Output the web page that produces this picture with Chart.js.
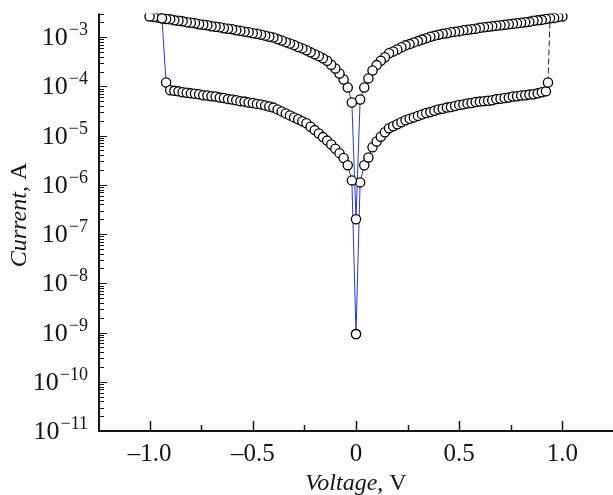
<!DOCTYPE html>
<html>
<head>
<meta charset="utf-8">
<script src="https://cdn.jsdelivr.net/npm/chart.js@4.4.1/dist/chart.umd.min.js"></script>
<style>
  html, body { margin: 0; padding: 0; background: #fff; }
  #wrap { width: 613px; height: 495px; position: relative; }
</style>
</head>
<body>
<div id="wrap"><canvas id="iv"></canvas></div>
<script>
// ===== I-V data =====
// |V| steps for every branch (V)
const voltage = [0.02, 0.04, 0.06, 0.08, 0.10, 0.12, 0.14, 0.16, 0.18, 0.20,
  0.22, 0.24, 0.26, 0.28, 0.30, 0.32, 0.34, 0.36, 0.38, 0.40,
  0.42, 0.44, 0.46, 0.48, 0.50, 0.52, 0.54, 0.56, 0.58, 0.60,
  0.62, 0.64, 0.66, 0.68, 0.70, 0.72, 0.74, 0.76, 0.78, 0.80,
  0.82, 0.84, 0.86, 0.88, 0.90, 0.92, 0.94, 0.96, 0.98, 1.00];

// high-current branch, V > 0 (A)
const upperRight = [5.4e-5, 9.5e-5, 1.45e-4, 2.1e-4, 2.7e-4, 3.3e-4, 3.9e-4, 4.7e-4, 5.1e-4, 5.6e-4,
  6.2e-4, 6.8e-4, 7.2e-4, 7.8e-4, 8.3e-4, 8.9e-4, 9.5e-4, 1.02e-3, 1.07e-3, 1.12e-3,
  1.17e-3, 1.20e-3, 1.26e-3, 1.29e-3, 1.32e-3, 1.38e-3, 1.41e-3, 1.45e-3, 1.48e-3, 1.55e-3,
  1.58e-3, 1.62e-3, 1.66e-3, 1.70e-3, 1.74e-3, 1.78e-3, 1.82e-3, 1.86e-3, 1.91e-3, 1.95e-3,
  2.00e-3, 2.04e-3, 2.14e-3, 2.19e-3, 2.24e-3, 2.34e-3, 2.40e-3, 2.45e-3, 2.57e-3, 2.63e-3];

// high-current branch, V < 0 (A)
const upperLeft = [4.7e-5, 9.5e-5, 1.38e-4, 1.82e-4, 2.3e-4, 2.75e-4, 3.3e-4, 3.7e-4, 4.1e-4, 4.5e-4,
  4.9e-4, 5.4e-4, 5.9e-4, 6.3e-4, 6.9e-4, 7.4e-4, 7.9e-4, 8.5e-4, 9.1e-4, 9.8e-4,
  1.02e-3, 1.07e-3, 1.12e-3, 1.17e-3, 1.20e-3, 1.26e-3, 1.29e-3, 1.35e-3, 1.38e-3, 1.45e-3,
  1.48e-3, 1.51e-3, 1.58e-3, 1.62e-3, 1.66e-3, 1.74e-3, 1.78e-3, 1.82e-3, 1.91e-3, 1.95e-3,
  2.00e-3, 2.09e-3, 2.14e-3, 2.19e-3, 2.29e-3, 2.34e-3, 2.40e-3, 2.51e-3, 2.57e-3, 2.63e-3];

// low-current branch, V = 0.02 .. 0.92 (A)
const lowerRight = [1.12e-6, 2.5e-6, 3.6e-6, 5.8e-6, 7.6e-6, 9.5e-6, 1.17e-5, 1.41e-5, 1.55e-5, 1.70e-5,
  1.86e-5, 2.04e-5, 2.19e-5, 2.34e-5, 2.51e-5, 2.69e-5, 2.88e-5, 3.0e-5, 3.2e-5, 3.4e-5,
  3.5e-5, 3.7e-5, 3.8e-5, 4.0e-5, 4.2e-5, 4.3e-5, 4.5e-5, 4.6e-5, 4.8e-5, 4.9e-5,
  5.0e-5, 5.1e-5, 5.2e-5, 5.5e-5, 5.6e-5, 5.8e-5, 5.9e-5, 6.2e-5, 6.3e-5, 6.5e-5,
  6.6e-5, 6.8e-5, 6.9e-5, 7.2e-5, 7.6e-5, 7.9e-5];

// low-current branch, V = -0.02 .. -0.90 (A)
const lowerLeft = [1.23e-6, 2.5e-6, 3.5e-6, 4.4e-6, 5.4e-6, 6.6e-6, 7.9e-6, 9.3e-6, 1.10e-5, 1.29e-5,
  1.51e-5, 1.78e-5, 1.95e-5, 2.14e-5, 2.34e-5, 2.57e-5, 2.82e-5, 3.1e-5, 3.4e-5, 3.7e-5,
  3.9e-5, 4.1e-5, 4.3e-5, 4.4e-5, 4.6e-5, 4.7e-5, 4.9e-5, 5.0e-5, 5.2e-5, 5.4e-5,
  5.5e-5, 5.8e-5, 5.9e-5, 6.2e-5, 6.3e-5, 6.5e-5, 6.6e-5, 6.9e-5, 7.1e-5, 7.2e-5,
  7.4e-5, 7.6e-5, 7.9e-5, 8.1e-5, 8.3e-5];

// points at V = 0 and the switching points
const zeroCurrent = [9.3e-10, 2.0e-7];
const jumpVoltage = [0.93, -0.92];
const jumpCurrent = [1.2e-4, 1.2e-4];

// axes
const xTickValues = [-1.0, -0.5, 0, 0.5, 1.0];
const xTickLabels = ["\u20131.0", "\u20130.5", "0", "0.5", "1.0"];
const xMinorTicks = [-0.75, -0.25, 0.25, 0.75];
const yExponents = [-11, -10, -9, -8, -7, -6, -5, -4, -3];

// ===== sweep order =====
const pt = (v, i) => ({ x: v, y: i });
const sweep = [];
sweep.push(pt(0, zeroCurrent[0]));
lowerRight.forEach((c, k) => sweep.push(pt(voltage[k], c)));
sweep.push(pt(jumpVoltage[0], jumpCurrent[0]));
sweep.push({ x: jumpVoltage[0], y: null });
for (let k = upperRight.length - 1; k >= 0; k--) sweep.push(pt(voltage[k], upperRight[k]));
sweep.push(pt(0, zeroCurrent[1]));
upperLeft.forEach((c, k) => sweep.push(pt(-voltage[k], c)));
sweep.push(pt(-voltage[46], upperLeft[46]));
sweep.push(pt(jumpVoltage[1], jumpCurrent[1]));
for (let k = lowerLeft.length - 1; k >= 0; k--) sweep.push(pt(-voltage[k], lowerLeft[k]));
sweep.push(pt(0, zeroCurrent[0]));

const setJump = [pt(jumpVoltage[0], jumpCurrent[0]), pt(voltage[46], upperRight[46])];

const SERIF = '"Liberation Serif", "Times New Roman", serif';
const INK = "#151515";

// ===== axes, ticks and labels drawn by hand (inward ticks, superscripts) =====
const decor = {
  id: "decor",
  afterDraw(chart) {
    const { ctx, chartArea: a, scales: { x, y } } = chart;
    ctx.save();
    ctx.strokeStyle = INK;
    ctx.fillStyle = INK;

    ctx.lineWidth = 2;
    ctx.beginPath();
    ctx.moveTo(a.left, a.top);
    ctx.lineTo(a.left, a.bottom);
    ctx.lineTo(a.right, a.bottom);
    ctx.stroke();

    // y ticks (log minor 2..9)
    ctx.lineWidth = 1;
    yExponents.forEach(e => {
      for (let m = 1; m <= 9; m++) {
        const v = m * Math.pow(10, e);
        if (v > y.max * 1.001) break;
        const py = Math.round(y.getPixelForValue(v)) + 0.5;
        ctx.beginPath();
        ctx.moveTo(a.left, py);
        ctx.lineTo(a.left + (m === 1 ? 8 : 5), py);
        ctx.stroke();
      }
    });

    // x ticks
    ctx.lineWidth = 1.5;
    xTickValues.forEach(v => {
      const px = Math.round(x.getPixelForValue(v)) + 0.5;
      ctx.beginPath(); ctx.moveTo(px, a.bottom); ctx.lineTo(px, a.bottom - 10); ctx.stroke();
    });
    xMinorTicks.forEach(v => {
      const px = Math.round(x.getPixelForValue(v)) + 0.5;
      ctx.beginPath(); ctx.moveTo(px, a.bottom); ctx.lineTo(px, a.bottom - 6); ctx.stroke();
    });

    // y labels 10^n
    ctx.textBaseline = "alphabetic";
    ctx.textAlign = "right";
    yExponents.forEach(e => {
      const py = y.getPixelForValue(Math.pow(10, e));
      const sup = "\u2212" + Math.abs(e);
      ctx.font = "18px " + SERIF;
      ctx.fillText(sup, 88, py - 2);
      const w = ctx.measureText(sup).width;
      ctx.font = "26px " + SERIF;
      ctx.fillText("10", 88 - w - 1, py + 8);
    });

    // x labels
    ctx.textAlign = "center";
    ctx.font = "25px " + SERIF;
    xTickValues.forEach((v, i) => {
      ctx.fillText(xTickLabels[i], x.getPixelForValue(v), 461);
    });

    // titles: italic quantity + upright unit
    const title = (italic, plain) => {
      ctx.font = "italic 24px " + SERIF;
      const w1 = ctx.measureText(italic).width;
      ctx.font = "24px " + SERIF;
      const w2 = ctx.measureText(plain).width;
      const x0 = -(w1 + w2) / 2;
      ctx.textAlign = "left";
      ctx.font = "italic 24px " + SERIF;
      ctx.fillText(italic, x0, 0);
      ctx.font = "24px " + SERIF;
      ctx.fillText(plain, x0 + w1, 0);
    };
    ctx.save();
    ctx.translate((a.left + a.right) / 2, 490);
    title("Voltage", ", V");
    ctx.restore();

    ctx.save();
    ctx.translate(26, 215);
    ctx.rotate(-Math.PI / 2);
    title("Current", ", A");
    ctx.restore();

    ctx.restore();
  }
};

new Chart(document.getElementById("iv"), {
  type: "scatter",
  data: {
    datasets: [
      {
        label: "sweep",
        data: sweep,
        showLine: true,
        spanGaps: false,
        borderColor: "#2637d8",
        borderWidth: 1,
        pointRadius: 4.6,
        pointBorderWidth: 1.3,
        pointBorderColor: "#000",
        pointBackgroundColor: "#fff"
      },
      {
        label: "set",
        data: setJump,
        showLine: true,
        borderColor: "#222",
        borderWidth: 1,
        borderDash: [6, 3],
        pointRadius: 0
      }
    ]
  },
  options: {
    responsive: true,
    maintainAspectRatio: false,
    animation: false,
    devicePixelRatio: 1,
    events: [],
    layout: { autoPadding: false, padding: { top: 13.6, left: 0, right: 0, bottom: 0 } },
    plugins: { legend: { display: false }, tooltip: { enabled: false } },
    scales: {
      x: {
        type: "linear",
        min: -1.245,
        max: 1.245,
        ticks: { display: false },
        grid: { display: false },
        border: { display: false },
        afterFit: s => { s.height = 64; }
      },
      y: {
        type: "logarithmic",
        min: 1e-11,
        max: 3e-3,
        ticks: { display: false },
        grid: { display: false },
        border: { display: false },
        afterFit: s => { s.width = 99; }
      }
    }
  },
  plugins: [decor]
});
</script>
</body>
</html>
